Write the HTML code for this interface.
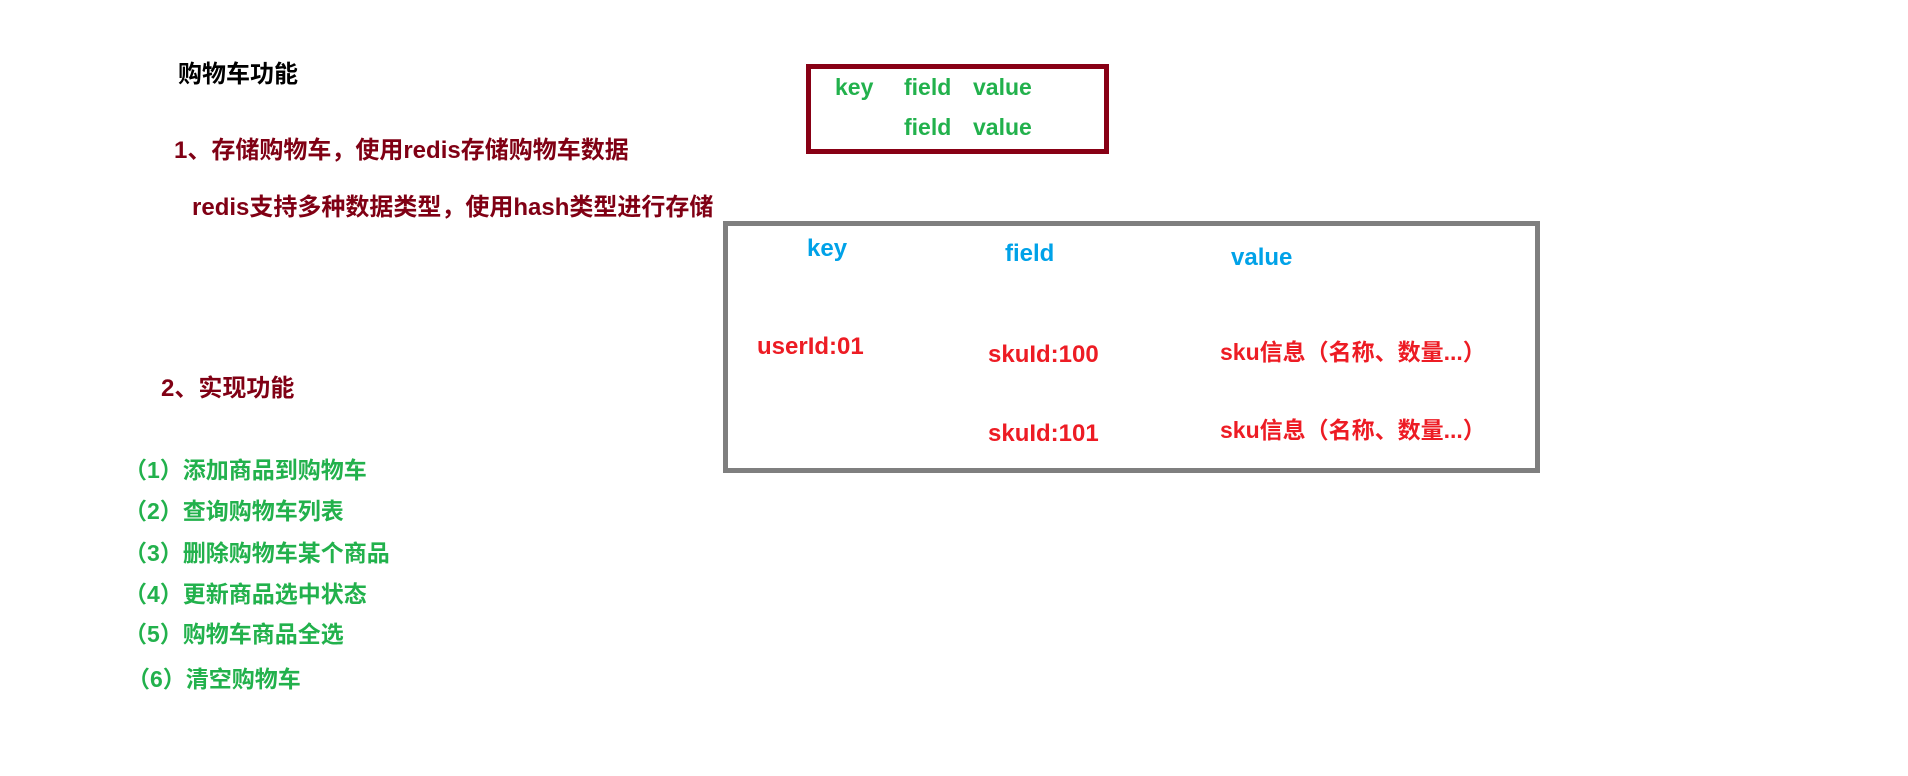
<!DOCTYPE html>
<html><head><meta charset="utf-8"><style>
body{margin:0;width:1908px;height:776px;background:#fff;position:relative;overflow:hidden;font-family:"Liberation Sans","Noto Sans CJK SC",sans-serif;font-weight:bold}
.t{position:absolute;white-space:nowrap;line-height:1}
.dr{color:#800014}.g{color:#22b14c}.b{color:#00a2e8}.r{color:#ed1c24}
.box{position:absolute;box-sizing:border-box}
</style></head><body>
<div class="t" style="left:178px;top:63px;font-size:24px;color:#000">购物车功能</div>
<div class="t dr" style="left:174px;top:139px;font-size:24px">1、存储购物车，使用redis存储购物车数据</div>
<div class="t dr" style="left:192px;top:196px;font-size:24px">redis支持多种数据类型，使用hash类型进行存储</div>
<div class="t dr" style="left:161px;top:377px;font-size:24px">2、实现功能</div>
<div class="t g" style="left:124px;top:459px;font-size:23px">（1）添加商品到购物车</div>
<div class="t g" style="left:124px;top:500px;font-size:23px">（2）查询购物车列表</div>
<div class="t g" style="left:124px;top:542px;font-size:23px">（3）删除购物车某个商品</div>
<div class="t g" style="left:124px;top:583px;font-size:23px">（4）更新商品选中状态</div>
<div class="t g" style="left:124px;top:623px;font-size:23px">（5）购物车商品全选</div>
<div class="t g" style="left:127px;top:668px;font-size:23px">（6）清空购物车</div>

<div class="box" style="left:806px;top:64px;width:303px;height:90px;border:5px solid #880015"></div>
<div class="t g" style="left:835px;top:76px;font-size:23px">key</div>
<div class="t g" style="left:904px;top:76px;font-size:23px">field</div>
<div class="t g" style="left:973px;top:76px;font-size:23px">value</div>
<div class="t g" style="left:904px;top:116px;font-size:23px">field</div>
<div class="t g" style="left:973px;top:116px;font-size:23px">value</div>

<div class="box" style="left:723px;top:221px;width:817px;height:252px;border:5px solid #7f7f7f"></div>
<div class="t b" style="left:807px;top:237px;font-size:24px">key</div>
<div class="t b" style="left:1005px;top:242px;font-size:24px">field</div>
<div class="t b" style="left:1231px;top:246px;font-size:24px">value</div>
<div class="t r" style="left:757px;top:335px;font-size:24px">userId:01</div>
<div class="t r" style="left:988px;top:343px;font-size:24px">skuId:100</div>
<div class="t r" style="left:1220px;top:341px;font-size:23px">sku信息（名称、数量...）</div>
<div class="t r" style="left:988px;top:422px;font-size:24px">skuId:101</div>
<div class="t r" style="left:1220px;top:419px;font-size:23px">sku信息（名称、数量...）</div>
</body></html>
